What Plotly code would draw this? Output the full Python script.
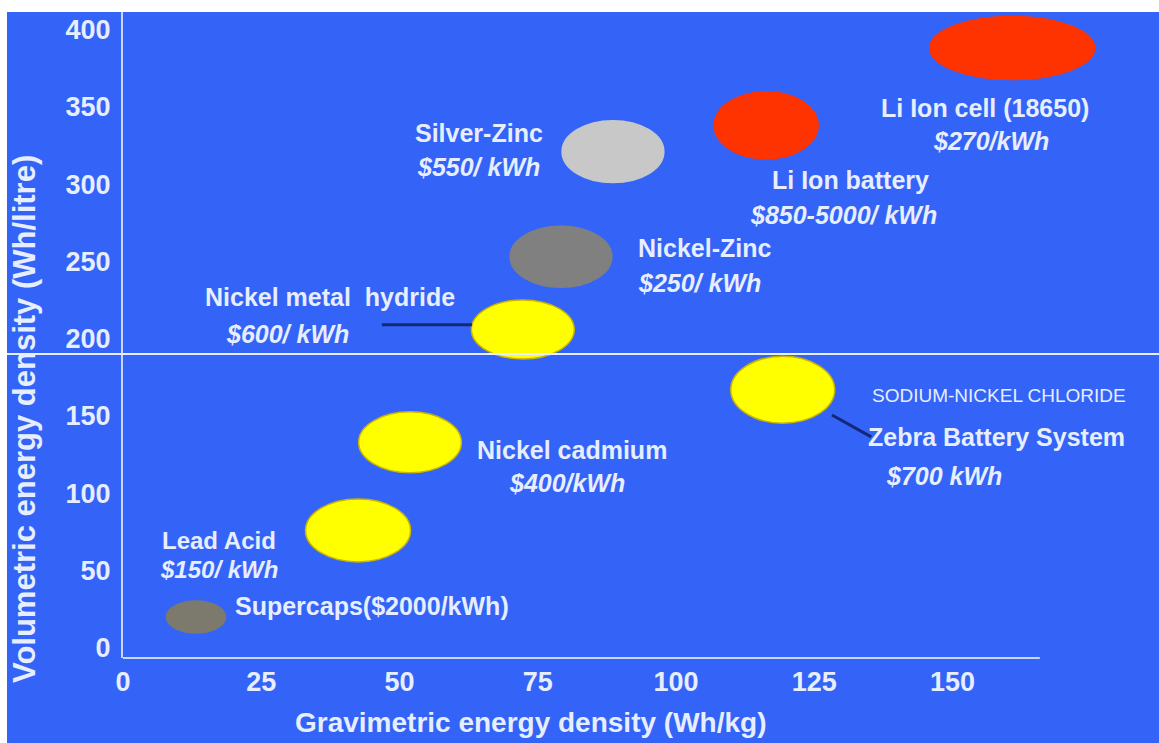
import plotly.graph_objects as go

# ---- data ----
technologies = ["Li Ion cell (18650)", "Li Ion battery", "Silver-Zinc", "Nickel-Zinc",
                "Nickel metal hydride", "Zebra Battery System", "Nickel cadmium",
                "Lead Acid", "Supercaps"]
grav_center = [160.8, 116.3, 88.6, 79.2, 72.3, 119.3, 51.9, 42.5, 13.2]   # Wh/kg
grav_span = [29.8, 18.8, 18.4, 18.4, 18.6, 18.8, 18.6, 19.0, 10.7]
vol_center = [388, 338, 321, 253, 206, 167, 133, 76, 20]                   # Wh/litre
vol_span = [40.7, 43.3, 40.0, 39.4, 38.2, 43.3, 39.4, 40.7, 20.7]
fill_colors = ["#ff3300", "#ff3300", "#c8c8c8", "#808080", "#ffff00",
               "#ffff00", "#ffff00", "#ffff00", "#7c7a6c"]
edge_colors = ["#ff3300", "#ff3300", "#c8c8c8", "#808080", "#c9b400",
               "#c9b400", "#c9b400", "#c9b400", "#7c7a6c"]

x_ticks = [0, 25, 50, 75, 100, 125, 150]
y_ticks = [0, 50, 100, 150, 200, 250, 300, 350, 400]
x_axis_end = 165.8   # where the drawn x-axis line stops

BLUE = "#3463f7"
TXT = "#e6eeff"
AXIS = "#c6d6ff"
FONT = "Liberation Sans, Arial, sans-serif"

# plot area geometry (pixels)
L, R, T, B = 123, 0, 12, 85
W = 1159 - L - R
H = 743 - T - B

fig = go.Figure()
fig.add_trace(go.Scatter(x=grav_center, y=vol_center, mode="markers",
                         marker=dict(size=1, opacity=0), text=technologies,
                         hoverinfo="text", showlegend=False))

for cx, cy, w, h, fc, ec in zip(grav_center, vol_center, grav_span, vol_span,
                                fill_colors, edge_colors):
    fig.add_shape(type="circle", xref="x", yref="y",
                  x0=cx - w / 2, x1=cx + w / 2, y0=cy - h / 2, y1=cy + h / 2,
                  fillcolor=fc, line=dict(color=ec, width=1.5))

# leader lines
fig.add_shape(type="line", xref="x", yref="y", x0=46.8, x1=63.1, y0=209, y1=209,
              line=dict(color="#14287a", width=3))
fig.add_shape(type="line", xref="x", yref="y", x0=128.2, x1=135.3, y0=150.7, y1=136.5,
              line=dict(color="#14287a", width=3))

# x-axis line (stops short of the right edge, as in the slide)
fig.add_shape(type="line", xref="x", yref="paper", x0=0, x1=x_axis_end, y0=0, y1=0,
              line=dict(color=AXIS, width=2))

# separator line across whole slide
fig.add_shape(type="line", xref="paper", yref="paper", x0=(7 - L) / W, x1=1.0,
              y0=(658 - 354) / H, y1=(658 - 354) / H, line=dict(color=TXT, width=2))

# white slide margins
fig.add_shape(type="rect", xref="paper", yref="paper", x0=-0.2, x1=1.2,
              y0=1.0, y1=1.05, fillcolor="white", line=dict(width=0), layer="above")
fig.add_shape(type="rect", xref="paper", yref="paper", x0=-0.2, x1=(7 - L) / W,
              y0=-0.2, y1=1.05, fillcolor="white", line=dict(width=0), layer="above")

def label(x, y, text, size=25, bold=True, italic=False, anchor="center"):
    t = text
    if italic:
        t = "<i>" + t + "</i>"
    if bold:
        t = "<b>" + t + "</b>"
    fig.add_annotation(x=x, y=y, xref="x", yref="y", text=t, showarrow=False,
                       xanchor=anchor, yanchor="middle",
                       font=dict(family=FONT, size=size, color=TXT))

label(155.9, 349.2, "Li Ion cell (18650)")
label(157.0, 327.9, "$270/kWh", italic=True)
label(131.5, 302.7, "Li Ion battery")
label(130.2, 280.0, "$850-5000/ kWh", italic=True)
label(64.4, 333.1, "Silver-Zinc")
label(64.2, 311.1, "$550/ kWh", italic=True)
label(92.8, 258.7, "Nickel-Zinc", anchor="left")
label(92.8, 236.0, "$250/ kWh", italic=True, anchor="left")
label(37.4, 227.0, "Nickel metal  hydride")
label(29.8, 203.1, "$600/ kWh", italic=True)
label(158.4, 163.0, "SODIUM-NICKEL CHLORIDE", size=19, bold=False)
label(157.9, 136.5, "Zebra Battery System")
label(148.5, 111.2, "$700 kWh", italic=True)
label(81.2, 128.0, "Nickel cadmium")
label(80.3, 106.7, "$400/kWh", italic=True)
label(17.4, 69.5, "Lead Acid", size=24)
label(17.4, 50.8, "$150/ kWh", size=24, italic=True)
label(45.0, 27.2, "Supercaps($2000/kWh)")

# axis titles
fig.add_annotation(x=(530 - L) / W, y=(658 - 722) / H, xref="paper", yref="paper",
                   text="<b>Gravimetric energy density (Wh/kg)</b>", showarrow=False,
                   xanchor="center", yanchor="middle",
                   font=dict(family=FONT, size=28, color=TXT))
fig.add_annotation(x=(25 - L) / W, y=(658 - 419) / H, xref="paper", yref="paper",
                   text="<b>Volumetric energy density (Wh/litre)</b>", showarrow=False,
                   textangle=-90, xanchor="center", yanchor="middle",
                   font=dict(family=FONT, size=31, color=TXT))

tickfont = dict(family=FONT, size=27, color=TXT, weight="bold")
fig.update_xaxes(range=[0, W / 5.53], tickvals=x_ticks, showgrid=False, zeroline=False,
                 showline=False, ticks="", ticklabelstandoff=5, tickfont=tickfont,
                 fixedrange=True)
fig.update_yaxes(range=[-6.5, 411.3], tickvals=y_ticks, showgrid=False, zeroline=False,
                 showline=True, linecolor=AXIS, linewidth=2, ticks="",
                 ticklabelstandoff=5, tickfont=tickfont, fixedrange=True)

fig.update_layout(width=1159, height=743, paper_bgcolor=BLUE, plot_bgcolor=BLUE,
                  margin=dict(l=L, r=R, t=T, b=B), showlegend=False)

fig.write_html("out.html")
